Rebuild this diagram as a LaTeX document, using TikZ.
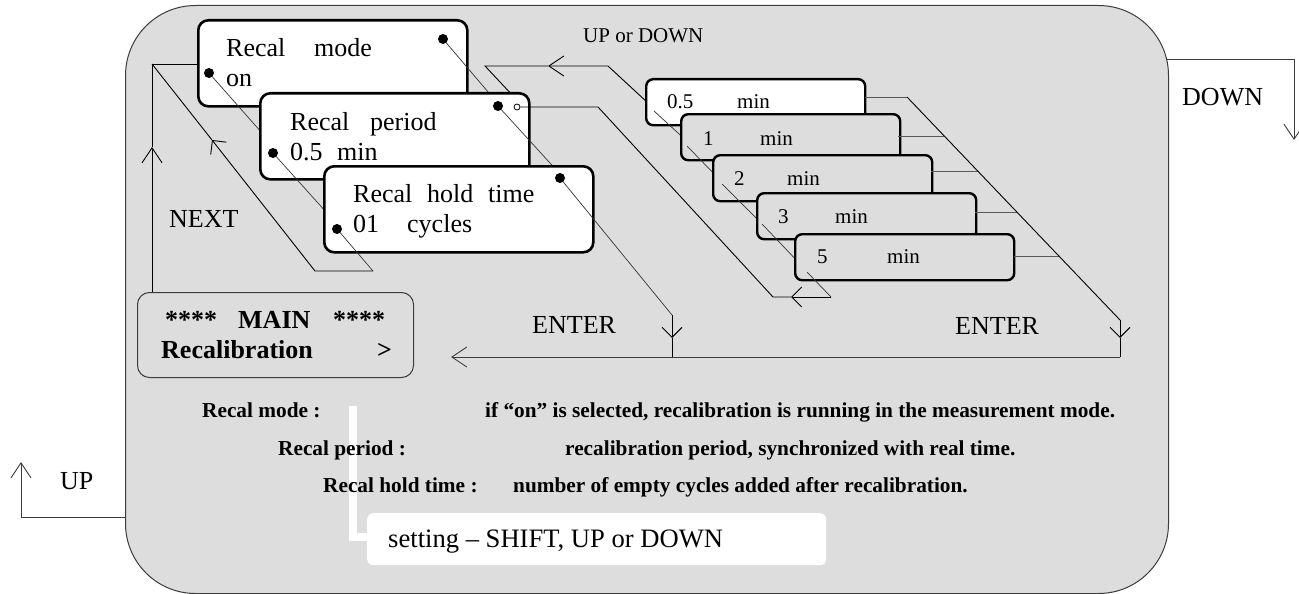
\documentclass[tikz,border=0pt]{standalone}
\usepackage{fontspec}
\setmainfont{Liberation Serif}
\usetikzlibrary{arrows.meta}
\definecolor{bggray}{RGB}{221,221,221}
\definecolor{edgegray}{RGB}{60,60,60}
\tikzset{
  ln/.style={draw=black, line width=0.9pt},
  fineln/.style={draw=black!80, line width=0.7pt},
  hln/.style={draw=black!65, line width=1pt},
  barb/.style={-{Straight Barb[length=15pt,width=20pt]}},
  sbarb/.style={-{Straight Barb[length=10pt,width=20pt]}},
  menubox/.style={draw=black, line width=2.6pt, rounded corners=10pt, fill=white, minimum width=269pt, minimum height=86pt, anchor=north west, inner sep=0pt},
  optbox/.style={draw=black, line width=2.4pt, rounded corners=7pt, fill=#1, minimum width=219pt, minimum height=46pt, anchor=north west, inner sep=0pt},
  dotmark/.style={circle, fill=black, inner sep=0pt, minimum size=10pt},
  ringmark/.style={circle, draw=black, fill=white, line width=0.8pt, inner sep=0pt, minimum size=6pt},
  lbl/.style={font=\fontsize{26}{30}\selectfont, inner sep=0pt, anchor=base west},
  hintlbl/.style={font=\fontsize{26.6}{30}\selectfont, inner sep=0pt, anchor=base west},
  optlbl/.style={font=\fontsize{21}{25}\selectfont, inner sep=0pt, anchor=base west},
  desclbl/.style={font=\fontsize{21.3}{25}\selectfont\bfseries, inner sep=0pt, anchor=base west},
  mainlbl/.style={font=\fontsize{26}{30}\selectfont\bfseries, inner sep=0pt, anchor=base west},
}
\begin{document}
\begin{tikzpicture}[x=1pt,y=-1pt]
\useasboundingbox (0,0) rectangle (1299,594);
% background panel
\node[draw=edgegray, fill=bggray, line width=1pt, rounded corners=70pt, minimum width=1043pt, minimum height=588pt, anchor=north west, inner sep=0pt] (panel) at (125,5) {};
% white hint bar and box
\fill[white] (349,406) rectangle (357,541);
\fill[white] (349,533) rectangle (368,541);
\node[fill=white, rounded corners=6pt, minimum width=459pt, minimum height=52pt, anchor=north west, inner sep=0pt] (hint) at (367,513) {};
\node[hintlbl] (hinttxt) at (388,547) {setting -- SHIFT, UP or DOWN};

% outside UP / DOWN arrows
\coordinate (upA) at (125,517); \coordinate (upB) at (21,517); \coordinate (upC) at (21,462);
\draw[ln, draw=edgegray, barb] (upA) -- (upB) -- (upC);
\node[lbl] (uplbl) at (60,489) {UP};
\coordinate (dnA) at (1166,59); \coordinate (dnB) at (1294,59); \coordinate (dnC) at (1294,140);
\draw[ln, draw=edgegray, barb] (dnA) -- (dnB) -- (dnC);
\node[lbl] (dnlbl) at (1182,106) {DOWN};

% NEXT loop (vertical part)
\coordinate (nA) at (152,292); \coordinate (nB) at (152,147); \coordinate (nC) at (152,64); \coordinate (nD) at (200,64);
\draw[ln, barb] (nA) -- (nB);
\draw[ln] (nB) -- (nC) -- (nD);
\node[lbl] (nextlbl) at (169,227) {NEXT};

% UP or DOWN return line
\coordinate (uA) at (648,103); \coordinate (uB) at (608,66); \coordinate (uC) at (548,66);
\coordinate (uD) at (485,66); \coordinate (uE) at (515,98);
\draw[ln, barb] (uA) -- (uB) -- (uC);
\draw[ln] (uC) -- (uD) -- (uE);
\node[optlbl] (updnlbl) at (583,43) {UP or DOWN};

% box 1
\node[menubox] (b1) at (197,19) {};
\node[lbl] (b1t1) at (226,57) {Recal};
\node[lbl] (b1t2) at (314,57) {mode};
\node[lbl] (b1t3) at (226,87) {on};
\node[dotmark] (d1L) at (209,73) {};
\node[dotmark] (d1R) at (443,39) {};
\coordinate (l1e) at (285,159);
\coordinate (r1e) at (500,106);
\draw[fineln] (d1L) -- (l1e);
\draw[fineln] (d1R) -- (r1e);

% box 2
\node[menubox] (b2) at (259,92) {};
\node[lbl] (b2t1) at (290,130) {Recal};
\node[lbl] (b2t2) at (370,130) {period};
\node[lbl] (b2t3) at (290,160) {0.5};
\node[lbl] (b2t4) at (337,160) {min};
\node[dotmark] (d2L) at (273,153) {};
\node[dotmark] (d2R) at (498,106) {};
\node[ringmark] (c2) at (517,107) {};
\coordinate (l2e) at (345,233);
\coordinate (r2e) at (560,174);
\draw[fineln] (d2L) -- (l2e);
\draw[fineln] (d2R) -- (r2e);
% return loop from the option stack to the ring
\coordinate (oA) at (598,107); \coordinate (oB) at (773,297); \coordinate (oC) at (791,297); \coordinate (oD) at (831,297);
\draw[ln] (c2) -- (oA) -- (oB) -- (oC);

% box 3
\node[menubox] (b3) at (323,165) {};
\node[lbl] (b3t1) at (353,202) {Recal};
\node[lbl] (b3t2) at (427,202) {hold};
\node[lbl] (b3t3) at (488,202) {time};
\node[lbl] (b3t4) at (353,232) {01};
\node[lbl] (b3t5) at (407,232) {cycles};
\node[dotmark] (d3L) at (337,229) {};
\node[dotmark] (d3R) at (560,178) {};
% NEXT chain
\coordinate (pA) at (373,271); \coordinate (pB) at (315,271); \coordinate (pC) at (212,140);
\draw[fineln] (d3L) -- (pA);
\draw[ln, sbarb] (pA) -- (pB) -- (pC);
\draw[ln] (pC) -- (nC);
% ENTER chain (left)
\coordinate (eB) at (672,315); \coordinate (eC) at (672,338); \coordinate (eD) at (672,357);
\draw[fineln] (d3R) -- (eB);
\draw[ln, sbarb] (eB) -- (eC);
\draw[ln] (eC) -- (eD);
\node[lbl] (ent1) at (532,333) {ENTER};

% option stack
\node[optbox=white] (o05) at (645,78) {};
\node[optlbl] (o05a) at (667,108) {0.5};
\node[optlbl] (o05b) at (737,108) {min};
\coordinate (s05) at (654,111); \coordinate (f05) at (690,144);
\draw[fineln] (s05) -- (f05);

\node[optbox=bggray] (o1) at (680,113) {};
\node[optlbl] (o1a) at (703,145) {1};
\node[optlbl] (o1b) at (760,145) {min};
\coordinate (s1) at (687,146); \coordinate (f1) at (720,180);
\draw[fineln] (s1) -- (f1);

\node[optbox=bggray] (o2) at (712,154) {};
\node[optlbl] (o2a) at (734,185) {2};
\node[optlbl] (o2b) at (787,185) {min};
\coordinate (s2) at (722,184); \coordinate (f2) at (765,227);
\draw[fineln] (s2) -- (f2);

\node[optbox=bggray] (o3) at (756,192) {};
\node[optlbl] (o3a) at (778,223) {3};
\node[optlbl] (o3b) at (835,223) {min};
\coordinate (s3) at (762,224); \coordinate (f3) at (802,266);
\draw[fineln] (s3) -- (f3);

\node[optbox=bggray] (o5) at (794,233) {};
\node[optlbl] (o5a) at (817,263) {5};
\node[optlbl] (o5b) at (887,263) {min};
\coordinate (s5) at (807,272);
\draw[fineln] (s5) -- (oD);
\draw[ln, sbarb] (oD) -- (oC);

% right ENTER diagonal
\coordinate (tA) at (907,97); \coordinate (tB) at (1120,320); \coordinate (tC) at (1120,338); \coordinate (tD) at (1120,357);
\coordinate (h05) at (865,97);
\coordinate (h1s) at (898,136); \coordinate (h1e) at (944,136);
\coordinate (h2s) at (931,171); \coordinate (h2e) at (978,171);
\coordinate (h3s) at (975,212); \coordinate (h3e) at (1017,212);
\coordinate (h5s) at (1014,256); \coordinate (h5e) at (1059,256);
\draw[hln] (h05) -- (tA);
\draw[hln] (h1s) -- (h1e);
\draw[hln] (h2s) -- (h2e);
\draw[hln] (h3s) -- (h3e);
\draw[hln] (h5s) -- (h5e);
\draw[ln] (tA) -- (tB);
\draw[ln, sbarb] (tB) -- (tC);
\draw[ln] (tC) -- (tD);
\node[lbl] (ent2) at (955,334) {ENTER};

% main horizontal return
\coordinate (mTip) at (451,357);
\draw[ln, draw=edgegray, barb] (tD) -- (mTip);

% MAIN box
\node[draw=edgegray, line width=1pt, rounded corners=12pt, minimum width=276pt, minimum height=85pt, anchor=north west, inner sep=0pt] (main) at (137,292) {};
\node[mainlbl] (m1) at (165,328) {****};
\node[mainlbl] (m2) at (238,328) {MAIN};
\node[mainlbl] (m3) at (333,328) {****};
\node[mainlbl] (m4) at (161,358) {Recalibration};
\node[mainlbl] (m5) at (377,358) {>};

% descriptions
\node[desclbl] (q1) at (202,417) {Recal mode :};
\node[desclbl] (a1) at (485,417) {if “on” is selected, recalibration is running in the measurement mode.};
\node[desclbl] (q2) at (278,455) {Recal period :};
\node[desclbl] (a2) at (565,455) {recalibration period, synchronized with real time.};
\node[desclbl] (q3) at (323,492) {Recal hold time :};
\node[desclbl] (a3) at (513,492) {number of empty cycles added after recalibration.};
\end{tikzpicture}
\end{document}
